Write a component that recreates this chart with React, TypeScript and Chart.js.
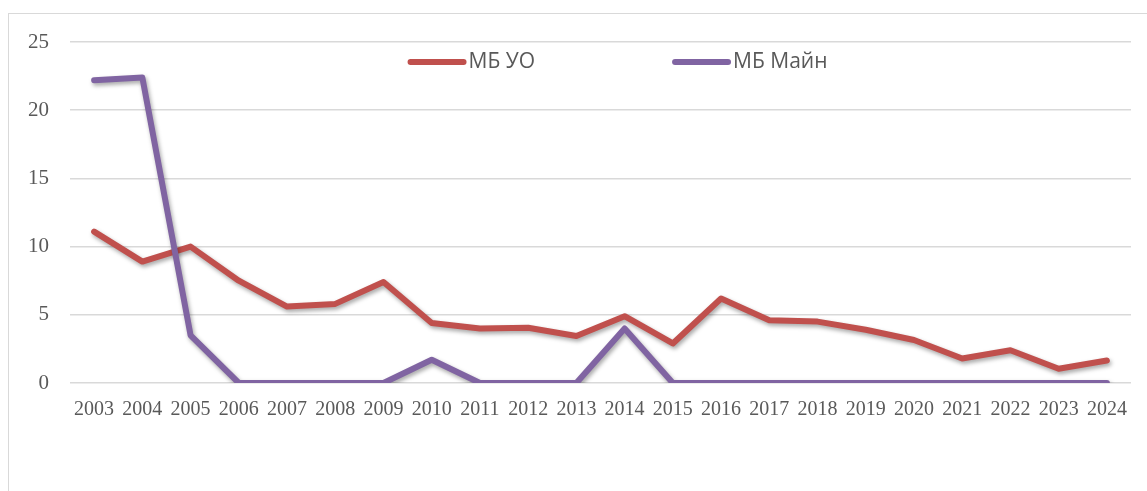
import React, { useEffect, useRef } from "react";
import { Chart, registerables } from "chart.js";

Chart.register(...registerables);

const categories = [
  "2003", "2004", "2005", "2006", "2007", "2008", "2009", "2010", "2011", "2012", "2013",
  "2014", "2015", "2016", "2017", "2018", "2019", "2020", "2021", "2022", "2023", "2024",
];
const mbUO = [11.1, 8.9, 10.0, 7.5, 5.6, 5.8, 7.4, 4.4, 4.0, 4.05, 3.45, 4.9, 2.9, 6.2, 4.6, 4.5, 3.9, 3.15, 1.8, 2.4, 1.05, 1.65];
const mbMain = [22.2, 22.4, 3.5, 0, 0, 0, 0, 1.7, 0, 0, 0, 4.0, 0, 0, 0, 0, 0, 0, 0, 0, 0, 0];
const seriesNames = ["МБ УО", "МБ Майн"];
const seriesColors = ["#C0504D", "#8064A2"];
const yTicks = [0, 5, 10, 15, 20, 25];

const shadowPlugin = {
  id: "lineShadow",
  beforeDatasetDraw(chart: any) {
    const ctx = chart.ctx;
    ctx.save();
    ctx.shadowColor = "rgba(0,0,0,0.35)";
    ctx.shadowBlur = 4;
    ctx.shadowOffsetX = 1.5;
    ctx.shadowOffsetY = 2.5;
  },
  afterDatasetDraw(chart: any) {
    chart.ctx.restore();
  },
};

const legendPlugin = {
  id: "customLegend",
  afterDraw(chart: any) {
    const ctx = chart.ctx;
    const font = '21px "Open Sans", sans-serif';
    ctx.save();
    ctx.font = font;
    const lineLen = 59;
    const textGap = 2;
    const itemGap = 137;
    const widths = chart.data.datasets.map(
      (ds: any) => lineLen + textGap + ctx.measureText(ds.label).width
    );
    const total = widths.reduce((a: number, b: number) => a + b, 0) + itemGap * (widths.length - 1);
    const cx = (chart.chartArea.left + chart.chartArea.right) / 2 + 17;
    const cy = chart.chartArea.top + 20;
    let x = cx - total / 2;
    chart.data.datasets.forEach((ds: any, i: number) => {
      ctx.strokeStyle = ds.borderColor;
      ctx.lineWidth = 6;
      ctx.lineCap = "round";
      ctx.beginPath();
      ctx.moveTo(x + 3, cy);
      ctx.lineTo(x + lineLen - 3, cy);
      ctx.stroke();
      ctx.fillStyle = "#595959";
      ctx.textBaseline = "middle";
      ctx.textAlign = "left";
      ctx.fillText(ds.label, x + lineLen + textGap, cy);
      x += widths[i] + itemGap;
    });
    ctx.restore();
  },
};

export default function App() {
  const ref = useRef<HTMLCanvasElement | null>(null);
  useEffect(() => {
    if (!ref.current) return;
    const chart = new Chart(ref.current, {
      type: "line",
      data: {
        labels: categories,
        datasets: [
          {
            label: seriesNames[0],
            data: mbUO,
            borderColor: seriesColors[0],
            backgroundColor: seriesColors[0],
            borderWidth: 6,
            pointRadius: 0,
            borderCapStyle: "round",
            borderJoinStyle: "round",
            tension: 0,
            order: 1,
          },
          {
            label: seriesNames[1],
            data: mbMain,
            borderColor: seriesColors[1],
            backgroundColor: seriesColors[1],
            borderWidth: 6,
            pointRadius: 0,
            borderCapStyle: "round",
            borderJoinStyle: "round",
            tension: 0,
            order: 0,
          },
        ],
      },
      options: {
        responsive: false,
        animation: false,
        devicePixelRatio: 1,
        layout: { padding: { top: 28, left: 0, right: 16, bottom: 57 } },
        plugins: { legend: { display: false }, tooltip: { enabled: false } },
        scales: {
          x: {
            offset: true,
            grid: { display: false },
            border: { display: false },
            ticks: {
              color: "#595959",
              font: { family: '"Liberation Serif", serif', size: 20 },
              padding: 7,
              maxRotation: 0,
              autoSkip: false,
            },
            afterFit(axis: any) {
              axis.height = 50;
              axis.paddingLeft = 0;
              axis.paddingRight = 0;
            },
          },
          y: {
            min: 0,
            max: 25,
            afterBuildTicks(axis: any) {
              axis.ticks = yTicks.map((v) => ({ value: v }));
            },
            grid: { color: "#d9d9d9", lineWidth: 1.5, drawTicks: false },
            border: { display: false },
            ticks: {
              color: "#595959",
              font: { family: '"Liberation Serif", serif', size: 21 },
              padding: 21,
            },
            afterFit(axis: any) {
              axis.width = 61;
              axis.paddingTop = 0;
              axis.paddingBottom = 0;
            },
          },
        },
      },
      plugins: [shadowPlugin, legendPlugin],
    } as any);
    return () => chart.destroy();
  }, []);
  return (
    <div
      style={{
        position: "fixed",
        left: 8,
        top: 13,
        width: 1139,
        height: 478,
        overflow: "hidden",
        borderTop: "1px solid #d9d9d9",
        borderLeft: "1px solid #d9d9d9",
        background: "#fff",
      }}
    >
      <canvas ref={ref} width={1138} height={476} style={{ display: "block" }} />
    </div>
  );
}
